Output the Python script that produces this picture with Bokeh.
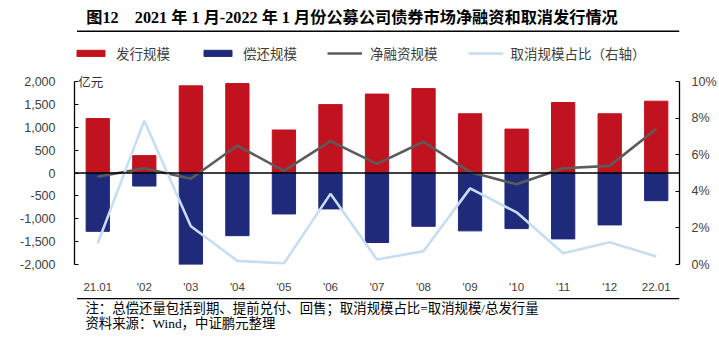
from bokeh.plotting import figure
from bokeh.layouts import column
from bokeh.models import (Range1d, FactorRange, LinearAxis, FixedTicker, NumeralTickFormatter,
                          Span, Label, Legend, LegendItem, ColumnDataSource)
from bokeh.core.properties import value
from bokeh.embed import file_html
from bokeh.resources import INLINE

# ---- data ----
months = ["21.01", "'02", "'03", "'04", "'05", "'06", "'07", "'08", "'09", "'10", "'11", "'12", "22.01"]
issuance = [1190, 380, 1905, 1955, 940, 1495, 1725, 1845, 1295, 960, 1540, 1295, 1570]      # 亿元
repayment = [-1275, -285, -2030, -1370, -895, -785, -1520, -1165, -1265, -1215, -1440, -1135, -605]
net_financing = [-82, 105, -125, 600, 45, 695, 200, 683, 20, -248, 105, 156, 963]
cancel_ratio = [0.0116, 0.0786, 0.0209, 0.0020, 0.0006, 0.0386, 0.0027, 0.0073, 0.0416, 0.0285, 0.0062, 0.0122, 0.0044]
left_ticks = [-2000, -1500, -1000, -500, 0, 500, 1000, 1500, 2000]
right_ticks = [0, 0.02, 0.04, 0.06, 0.08, 0.10]

title_text = "图12　2021 年 1 月-2022 年 1 月份公募公司债券市场净融资和取消发行情况"
note1 = "注：总偿还量包括到期、提前兑付、回售；取消规模占比=取消规模/总发行量"
note2 = "资料来源：Wind，中证鹏元整理"

RED = "#C1121F"
NAVY = "#1F2A7B"
GRAY = "#5B5B5B"
LIGHT = "#C7DDF2"
CJK = "Noto Sans CJK SC"
SERIF_CJK = "'Liberation Serif', 'Noto Sans CJK SC'"

W = 719
TOP_H = 36          # title strip
MAIN_H = 261        # chart strip (canvas y 36..297)
BOT_H = 48          # notes strip
FL, FR = 74, 680    # frame left/right
PLOT_TOP, PLOT_BOT = 81, 264   # canvas y of 2000 and -2000


def strip(h):
    f = figure(width=W, height=h, x_range=Range1d(0, W), y_range=Range1d(h, 0),
               output_backend="svg", toolbar_location=None, x_axis_type=None, y_axis_type=None,
               min_border=0, min_border_left=0, min_border_right=0, min_border_top=0, min_border_bottom=0)
    f.outline_line_color = None
    f.xgrid.visible = False
    f.ygrid.visible = False
    f.background_fill_color = "white"
    f.border_fill_color = "white"
    return f


# ---------- title strip ----------
top = strip(TOP_H)
top.text(x=[14], y=[17], text=[title_text], text_baseline="middle", text_align="left",
         text_font=value(SERIF_CJK), text_font_style="bold", text_font_size="16.2px", text_color="black")
top.quad(left=[3], right=[W], top=[30], bottom=[31.6], fill_color="black", line_color=None)

# ---------- main chart ----------
K = (PLOT_BOT - PLOT_TOP) / 4000.0                # px per 亿元
frame_top_val = 2000 + (PLOT_TOP - TOP_H) / K     # value at top of frame
pct_top_val = 0.10 * (frame_top_val + 2000) / 4000.0

src = ColumnDataSource(dict(m=months, iss=issuance, rep=repayment, net=net_financing, ratio=cancel_ratio))

p = figure(width=W, height=MAIN_H, x_range=FactorRange(*months), y_range=Range1d(-2000, frame_top_val),
           output_backend="svg", toolbar_location=None,
           min_border_left=FL, min_border_right=W - FR, min_border_top=0,
           min_border_bottom=TOP_H + MAIN_H - PLOT_BOT)
p.extra_y_ranges = {"pct": Range1d(0, pct_top_val)}
p.outline_line_color = None
p.xgrid.visible = False
p.ygrid.visible = False
p.background_fill_color = "white"
p.border_fill_color = "white"

r_iss = p.vbar(x="m", top="iss", bottom=0, width=0.5, source=src, fill_color=RED, line_color=RED)
r_rep = p.vbar(x="m", top=0, bottom="rep", width=0.5, source=src, fill_color=NAVY, line_color=NAVY)

zero = Span(location=0, dimension="width", line_color="black", line_width=1.5, level="glyph")
p.add_layout(zero)

r_net = p.line(x="m", y="net", source=src, line_color=GRAY, line_width=2.6)
r_ratio = p.line(x="m", y="ratio", source=src, y_range_name="pct", line_color=LIGHT, line_width=2.6)

xa = p.xaxis[0]
xa.axis_line_color = None
xa.major_tick_line_color = None
xa.minor_tick_line_color = None
xa.major_label_standoff = 10
xa.major_label_text_font = "Liberation Sans"
xa.major_label_text_font_size = "11.5px"
xa.major_label_text_color = "#404040"

ya = p.yaxis[0]
ya.ticker = FixedTicker(ticks=left_ticks)
ya.formatter = NumeralTickFormatter(format="0,0")
ya.bounds = (-2000, 2000)
ya.axis_line_color = "black"
ya.axis_line_width = 1.3
ya.major_tick_line_color = "black"
ya.major_tick_out = 0
ya.major_tick_in = 4
ya.minor_tick_line_color = None
ya.major_label_standoff = 19
ya.major_label_text_font = "Liberation Sans"
ya.major_label_text_font_size = "12.5px"
ya.major_label_text_color = "#404040"

ra = LinearAxis(y_range_name="pct", ticker=FixedTicker(ticks=right_ticks),
                formatter=NumeralTickFormatter(format="0%"), bounds=(0, 0.10))
ra.axis_line_color = "black"
ra.axis_line_width = 1.3
ra.major_tick_line_color = "black"
ra.major_tick_in = 4
ra.major_tick_out = 0
ra.minor_tick_line_color = None
ra.major_label_standoff = 12
ra.major_label_text_font = "Liberation Sans"
ra.major_label_text_font_size = "12.5px"
ra.major_label_text_color = "#404040"
p.add_layout(ra, "right")

# unit label (just right of the left axis, at the 2,000 level)
p.add_layout(Label(x=0.08, y=2000, text="亿元", text_baseline="middle", text_align="left",
                   text_font=CJK, text_font_size="12.5px", text_color="#333333"))

legend = Legend(items=[LegendItem(label="发行规模", renderers=[r_iss]),
                       LegendItem(label="偿还规模", renderers=[r_rep]),
                       LegendItem(label="净融资规模", renderers=[r_net]),
                       LegendItem(label="取消规模占比（右轴）", renderers=[r_ratio])],
                orientation="horizontal", location=(-1, PLOT_BOT - 53 - 10),
                glyph_width=35, glyph_height=8, label_standoff=8, spacing=30,
                padding=0, margin=0, border_line_color=None, background_fill_alpha=0,
                label_text_font=CJK, label_text_font_size="13.5px", label_text_color="#404040",
                label_height=20)
p.add_layout(legend, "center")

# ---------- notes strip ----------
bot = strip(BOT_H)
bot.quad(left=[3], right=[W], top=[0.4], bottom=[1.8], fill_color="black", line_color=None)
bot.text(x=[13, 13], y=[11, 25.5], text=[note1, note2], text_baseline="middle", text_align="left",
         text_font=value(SERIF_CJK), text_font_size="13.4px", text_color="black")

layout = column(top, p, bot, spacing=0)
open("out.html", "w").write(file_html(layout, INLINE))
